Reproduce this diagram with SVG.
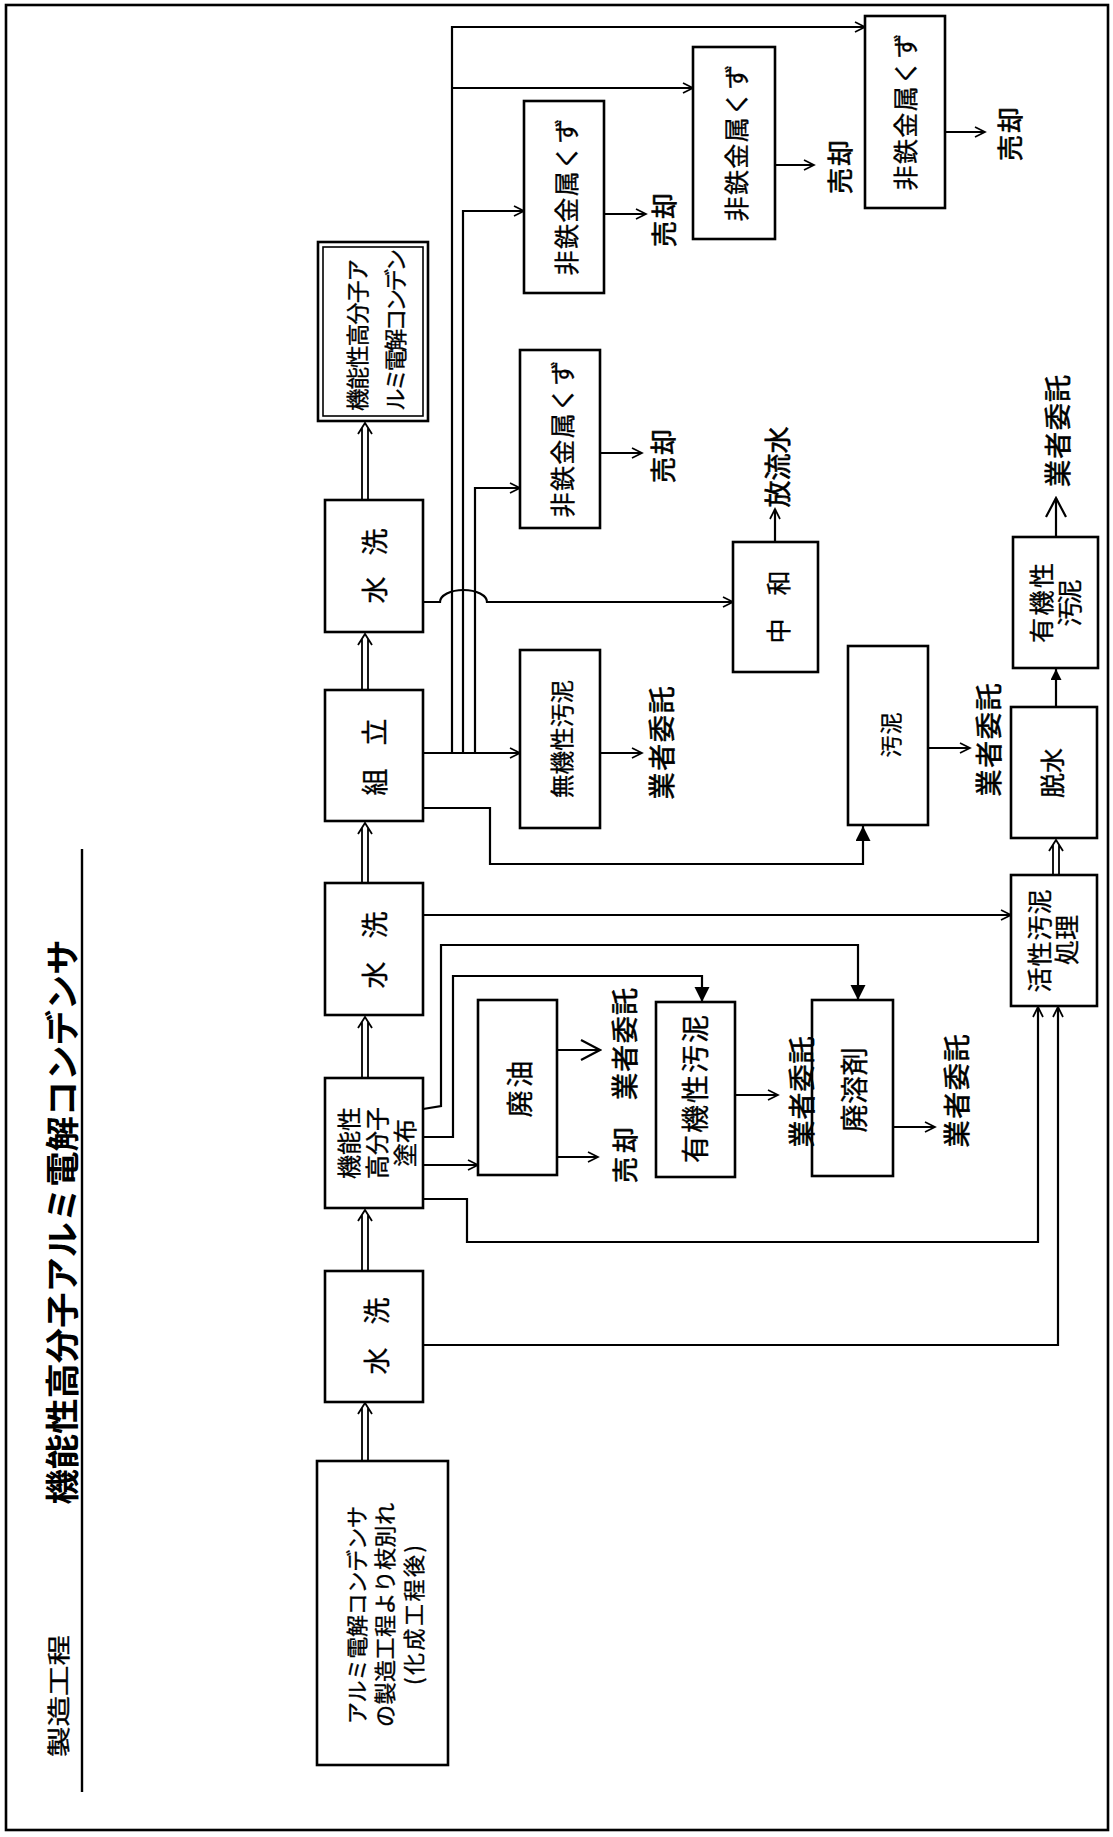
<svg xmlns="http://www.w3.org/2000/svg" width="1113" height="1837" viewBox="0 0 1113 1837">
<style>
.bx{fill:#fff;stroke:#000;stroke-width:2.6}
.bx2{fill:none;stroke:#000;stroke-width:1.6}
.ln{fill:none;stroke:#000;stroke-width:2.2}
.dl{fill:none;stroke:#000;stroke-width:1.8}
.t{font-family:"Noto Sans CJK JP","Noto Sans CJK SC",sans-serif;fill:#000;text-anchor:middle;dominant-baseline:central;stroke:#000;stroke-width:0.35}
.s{text-anchor:start}
.ttl{font-weight:bold;stroke-width:0}
.lb{stroke-width:0.6}
</style>
<defs>
<marker id="oa" markerWidth="13" markerHeight="13" refX="11" refY="6" orient="auto" markerUnits="userSpaceOnUse"><path d="M1,1 L11,6 L1,11" fill="none" stroke="#000" stroke-width="1.7"/></marker>
<marker id="ob" markerWidth="22" markerHeight="24" refX="20" refY="12" orient="auto" markerUnits="userSpaceOnUse"><path d="M1,2 L20,12 L1,22" fill="none" stroke="#000" stroke-width="2.2"/></marker>
<marker id="fa" markerWidth="16" markerHeight="16" refX="15" refY="7.5" orient="auto" markerUnits="userSpaceOnUse"><path d="M0,0 L15,7.5 L0,15 Z" fill="#000"/></marker>
<marker id="fs" markerWidth="12" markerHeight="12" refX="11" refY="5.5" orient="auto" markerUnits="userSpaceOnUse"><path d="M0,0 L11,5.5 L0,11 Z" fill="#000"/></marker>
</defs>
<rect x="0" y="0" width="1113" height="1837" fill="#fff"/>
<rect x="6" y="5" width="1102" height="1825" fill="none" stroke="#000" stroke-width="2.6"/>
<g id="title">
<line x1="82" y1="849" x2="82" y2="1792" stroke="#000" stroke-width="2.4"/>
<text class="t ttl" font-size="34" transform="translate(60,1222) rotate(-90)" textLength="565" lengthAdjust="spacingAndGlyphs">機能性高分子アルミ電解コンデンサ</text>
<text class="t" font-size="23" transform="translate(57,1696) rotate(-90)" textLength="122" lengthAdjust="spacingAndGlyphs">製造工程</text>
</g>
<g id="connectors">
<path class="ln" d="M423,753 H520" marker-end="url(#oa)"/>
<path class="ln" d="M452,753 V27 H865" marker-end="url(#oa)"/>
<path class="ln" d="M452,88 H693" marker-end="url(#oa)"/>
<path class="ln" d="M463,753 V211 H524" marker-end="url(#oa)"/>
<path class="ln" d="M475,753 V488 H520" marker-end="url(#oa)"/>
<path class="ln" d="M423,602 H440 A23.5,12 0 0 1 487,602 H733" marker-end="url(#oa)"/>
<path class="ln" d="M423,808 H490 V864 H863 V826" marker-end="url(#fa)"/>
<path class="ln" d="M775,542 V509" marker-end="url(#oa)"/>
<path class="ln" d="M600,753 H642" marker-end="url(#oa)"/>
<path class="ln" d="M928,748 H970" marker-end="url(#oa)"/>
<path class="ln" d="M600,453 H642" marker-end="url(#oa)"/>
<path class="ln" d="M604,214 H646" marker-end="url(#oa)"/>
<path class="ln" d="M775,165 H814" marker-end="url(#oa)"/>
<path class="ln" d="M945,132 H985" marker-end="url(#oa)"/>
<path class="ln" d="M423,915 H1011" marker-end="url(#oa)"/>
<path class="ln" d="M423,1109 L441,1106 V945 H858 V1000" marker-end="url(#fa)"/>
<path class="ln" d="M423,1137 H453 V976 H702 V1002" marker-end="url(#fa)"/>
<path class="ln" d="M423,1165 H478" marker-end="url(#oa)"/>
<path class="ln" d="M423,1199 H467 V1242 H1038 V1007" marker-end="url(#oa)"/>
<path class="ln" d="M423,1345 H1058 V1007" marker-end="url(#oa)"/>
<path class="ln" d="M557,1050 H600" marker-end="url(#ob)"/>
<path class="ln" d="M557,1157 H598" marker-end="url(#oa)"/>
<path class="ln" d="M735,1095 H778" marker-end="url(#oa)"/>
<path class="ln" d="M893,1127 H935" marker-end="url(#oa)"/>
<path class="ln" d="M1056,707 V669" marker-end="url(#fs)"/>
<path class="ln" d="M1056,537 V498" marker-end="url(#ob)"/>
<path class="dl" d="M362,1461 V1408 M368,1461 V1408 M358,1414 L365,1403 L372,1414"/>
<path class="dl" d="M362,1271 V1215 M368,1271 V1215 M358,1221 L365,1210 L372,1221"/>
<path class="dl" d="M362,1078 V1022 M368,1078 V1022 M358,1028 L365,1017 L372,1028"/>
<path class="dl" d="M362,883 V828 M368,883 V828 M358,834 L365,823 L372,834"/>
<path class="dl" d="M362,690 V639 M368,690 V639 M358,645 L365,634 L372,645"/>
<path class="dl" d="M362,500 V428 M368,500 V428 M358,434 L365,423 L372,434"/>
<path class="dl" d="M1053,875 V845 M1059,875 V845 M1049,851 L1056,840 L1063,851"/>
</g>
<g id="n-source"><rect class="bx" x="317" y="1461" width="131" height="304"/>
<text class="t" font-size="22" transform="translate(355,1615) rotate(-90)" textLength="218">アルミ電解コンデンサ</text>
<text class="t" font-size="22" transform="translate(383,1615) rotate(-90)" textLength="224">の製造工程より枝別れ</text>
<text class="t" font-size="22" transform="translate(412,1615) rotate(-90)" textLength="140">(化成工程後)</text></g>
<g id="n-wash1"><rect class="bx" x="325" y="1271" width="98" height="131"/>
<text class="t" font-size="27" transform="translate(375,1336) rotate(-90)" textLength="77">水　洗</text></g>
<g id="n-coat"><rect class="bx" x="325" y="1078" width="98" height="130"/>
<text class="t" font-size="24" transform="translate(347,1143) rotate(-90)" textLength="72">機能性</text>
<text class="t" font-size="24" transform="translate(375,1143) rotate(-90)" textLength="72">高分子</text>
<text class="t" font-size="24" transform="translate(403,1143) rotate(-90)" textLength="48">塗布</text></g>
<g id="n-wash2"><rect class="bx" x="325" y="883" width="98" height="132"/>
<text class="t" font-size="27" transform="translate(373,950) rotate(-90)" textLength="77">水　洗</text></g>
<g id="n-assy"><rect class="bx" x="325" y="690" width="98" height="131"/>
<text class="t" font-size="27" transform="translate(373,757) rotate(-90)" textLength="77">組　立</text></g>
<g id="n-wash3"><rect class="bx" x="325" y="500" width="98" height="132"/>
<text class="t" font-size="27" transform="translate(373,566) rotate(-90)" textLength="75">水　洗</text></g>
<g id="n-product"><rect class="bx" x="318" y="242" width="110" height="179"/>
<rect class="bx2" x="323" y="247" width="100" height="169"/>
<text class="t s" font-size="22.5" transform="translate(356,411) rotate(-90)" textLength="152">機能性高分子ア</text>
<text class="t s" font-size="22.5" transform="translate(394,411) rotate(-90)" textLength="162">ルミ電解コンデン</text></g>
<g id="n-oil"><rect class="bx" x="478" y="1000" width="79" height="175"/>
<text class="t" font-size="27" transform="translate(518,1089) rotate(-90)" textLength="57">廃油</text></g>
<g id="n-orgsludge1"><rect class="bx" x="656" y="1002" width="79" height="175"/>
<text class="t" font-size="28" transform="translate(694,1089) rotate(-90)" textLength="148">有機性汚泥</text></g>
<g id="n-solvent"><rect class="bx" x="812" y="1000" width="81" height="176"/>
<text class="t" font-size="28" transform="translate(853,1090) rotate(-90)" textLength="85">廃溶剤</text></g>
<g id="n-activated"><rect class="bx" x="1011" y="875" width="86" height="131"/>
<text class="t" font-size="25" transform="translate(1038,941) rotate(-90)" textLength="103">活性汚泥</text>
<text class="t" font-size="25" transform="translate(1065,940) rotate(-90)" textLength="50">処理</text></g>
<g id="n-dewater"><rect class="bx" x="1011" y="707" width="86" height="131"/>
<text class="t" font-size="25" transform="translate(1051,773) rotate(-90)" textLength="50">脱水</text></g>
<g id="n-orgsludge2"><rect class="bx" x="1013" y="537" width="85" height="131"/>
<text class="t" font-size="25" transform="translate(1040,603) rotate(-90)" textLength="80">有機性</text>
<text class="t" font-size="25" transform="translate(1068,603) rotate(-90)" textLength="47">汚泥</text></g>
<g id="n-sludge"><rect class="bx" x="848" y="646" width="80" height="179"/>
<text class="t" font-size="22" transform="translate(889,735) rotate(-90)" textLength="45">汚泥</text></g>
<g id="n-neutral"><rect class="bx" x="733" y="542" width="85" height="130"/>
<text class="t" font-size="25" transform="translate(777,607) rotate(-90)" textLength="73">中　和</text></g>
<g id="n-inorg"><rect class="bx" x="520" y="650" width="80" height="178"/>
<text class="t" font-size="23.5" transform="translate(561,739) rotate(-90)" textLength="118">無機性汚泥</text></g>
<g id="n-nf1"><rect class="bx" x="520" y="350" width="80" height="178"/>
<text class="t" font-size="25" transform="translate(561,439) rotate(-90)" textLength="157">非鉄金属くず</text></g>
<g id="n-nf2"><rect class="bx" x="524" y="101" width="80" height="192"/>
<text class="t" font-size="25" transform="translate(565,197) rotate(-90)" textLength="157">非鉄金属くず</text></g>
<g id="n-nf3"><rect class="bx" x="693" y="47" width="82" height="192"/>
<text class="t" font-size="25" transform="translate(735,143) rotate(-90)" textLength="157">非鉄金属くず</text></g>
<g id="n-nf4"><rect class="bx" x="865" y="16" width="80" height="192"/>
<text class="t" font-size="25" transform="translate(904,112) rotate(-90)" textLength="157">非鉄金属くず</text></g>
<g id="labels">
<text class="t lb" font-size="26" transform="translate(661,456) rotate(-90)" textLength="54">売却</text>
<text class="t lb" font-size="26" transform="translate(662,220) rotate(-90)" textLength="54">売却</text>
<text class="t lb" font-size="26" transform="translate(838,167) rotate(-90)" textLength="54">売却</text>
<text class="t lb" font-size="26" transform="translate(1008,134) rotate(-90)" textLength="54">売却</text>
<text class="t lb" font-size="26" transform="translate(623,1155) rotate(-90)" textLength="56">売却</text>
<text class="t lb" font-size="27" transform="translate(660,743) rotate(-90)" textLength="113">業者委託</text>
<text class="t lb" font-size="27" transform="translate(987,740) rotate(-90)" textLength="113">業者委託</text>
<text class="t lb" font-size="27" transform="translate(623,1044) rotate(-90)" textLength="112">業者委託</text>
<text class="t lb" font-size="27" transform="translate(800,1092) rotate(-90)" textLength="111">業者委託</text>
<text class="t lb" font-size="27" transform="translate(955,1091) rotate(-90)" textLength="113">業者委託</text>
<text class="t lb" font-size="27" transform="translate(1056,431) rotate(-90)" textLength="112">業者委託</text>
<text class="t lb" font-size="27" transform="translate(776,467) rotate(-90)" textLength="81">放流水</text>
</g>
</svg>
